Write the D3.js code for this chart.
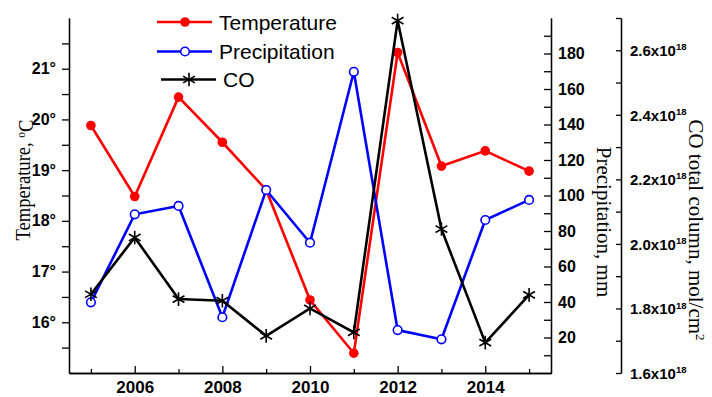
<!DOCTYPE html>
<html>
<head>
<meta charset="utf-8">
<script src="https://cdn.jsdelivr.net/npm/d3@7"></script>
<style>
  body { margin: 0; background: #fff; }
  .tick text { font-family: "Liberation Sans", Arial, sans-serif; font-weight: bold; fill: #000; }
  .axis path, .axis line { stroke: #000; stroke-width: 1.3px; }
  .title { font-family: "Liberation Serif", "Times New Roman", serif; font-size: 21px; fill: #000; }
  .legend text { font-family: "Liberation Sans", Arial, sans-serif; font-size: 21px; fill: #000; }
</style>
</head>
<body>
<div id="chart"></div>
<script>
// data
var years = [2005, 2006, 2007, 2008, 2009, 2010, 2011, 2012, 2013, 2014, 2015];
var temperature = [19.88, 18.48, 20.44, 19.55, 18.61, 16.44, 15.39, 21.32, 19.08, 19.38, 18.98];
var precipitation = [39.8, 89.4, 94.1, 31.4, 103.1, 73.4, 169.7, 24.2, 19.0, 86.2, 97.5];
var coColumn = [1.844, 2.020, 1.829, 1.824, 1.715, 1.800, 1.726, 2.692, 2.046, 1.694, 1.842]; // x1e18

var yearTicks = [2006, 2008, 2010, 2012, 2014];
var yearMinor = [2005, 2007, 2009, 2011, 2013, 2015];
var tempTicks = [16, 17, 18, 19, 20, 21];
var tempMinor = [15.5, 16.5, 17.5, 18.5, 19.5, 20.5, 21.5];
var precTicks = [20, 40, 60, 80, 100, 120, 140, 160, 180];
var precMinor = [10, 30, 50, 70, 90, 110, 130, 150, 170, 190];
var coTicks = [1.6, 1.8, 2.0, 2.2, 2.4, 2.6];
var coMinor = [1.7, 1.9, 2.1, 2.3, 2.5, 2.7];

var W = 712, H = 397;
var plot = {left: 69, right: 551, top: 18, bottom: 373};
var coAxisX = 621;

var svg = d3.select("#chart").append("svg")
    .attr("width", W)
    .attr("height", H);

// scales
var x = d3.scaleLinear().domain([2004.5, 2015.5]).range([plot.left, plot.right]);
var yT = d3.scaleLinear().domain([15, 22]).range([plot.bottom, plot.top]);
var yP = d3.scaleLinear().domain([0, 200]).range([plot.bottom, plot.top]);
var yC = d3.scaleLinear().domain([1.6, 2.7]).range([plot.bottom, plot.top]);

// bottom axis, ticks pointing inward
svg.append("g").attr("class", "axis")
    .attr("transform", "translate(0," + plot.bottom + ")")
    .call(d3.axisBottom(x).tickValues(yearMinor).tickSize(-4).tickSizeOuter(0).tickFormat(""));
svg.append("g").attr("class", "axis x")
    .attr("transform", "translate(0," + plot.bottom + ")")
    .call(d3.axisBottom(x).tickValues(yearTicks).tickSize(-7).tickSizeOuter(0).tickPadding(8).tickFormat(d3.format("d")))
    .selectAll(".tick text").style("font-size", "17px");

// left temperature axis
svg.append("g").attr("class", "axis")
    .attr("transform", "translate(" + plot.left + ",0)")
    .call(d3.axisLeft(yT).tickValues(tempMinor).tickSize(7).tickSizeOuter(0).tickFormat(""));
svg.append("g").attr("class", "axis yT")
    .attr("transform", "translate(" + plot.left + ",0)")
    .call(d3.axisLeft(yT).tickValues(tempTicks).tickSize(7).tickSizeOuter(0).tickPadding(6).tickFormat(function(d) { return d + "°"; }))
    .selectAll(".tick text").style("font-size", "16px");

// right precipitation axis, ticks inward
svg.append("g").attr("class", "axis")
    .attr("transform", "translate(" + plot.right + ",0)")
    .call(d3.axisRight(yP).tickValues(precMinor).tickSize(-7).tickSizeOuter(0).tickFormat(""));
svg.append("g").attr("class", "axis yP")
    .attr("transform", "translate(" + plot.right + ",0)")
    .call(d3.axisRight(yP).tickValues(precTicks).tickSize(-7).tickSizeOuter(0).tickPadding(7))
    .selectAll(".tick text").style("font-size", "16px");

// CO axis
svg.append("g").attr("class", "axis")
    .attr("transform", "translate(" + coAxisX + ",0)")
    .call(d3.axisRight(yC).tickValues(coMinor).tickSize(-5).tickSizeOuter(0).tickFormat(""));
var coAxis = svg.append("g").attr("class", "axis yC")
    .attr("transform", "translate(" + coAxisX + ",0)")
    .call(d3.axisRight(yC).tickValues(coTicks).tickSize(-5).tickSizeOuter(0).tickPadding(9).tickFormat(""));
var coLabel = coAxis.selectAll(".tick text")
    .style("font-size", "15px")
    .attr("dy", "0.35em");
coLabel.append("tspan").text(function(d) { return d3.format(".1f")(d) + "x10"; });
coLabel.append("tspan").text("18").attr("dy", "-0.6em").style("font-size", "9.5px");

// axis titles
svg.append("text").attr("class", "title")
    .attr("transform", "translate(30,180) rotate(-90)")
    .attr("text-anchor", "middle")
    .attr("textLength", 121).attr("lengthAdjust", "spacingAndGlyphs")
    .html('Temperature, <tspan dy="-0.35em" font-size="13px">o</tspan><tspan dy="0.35em">C</tspan>');

svg.append("text").attr("class", "title")
    .attr("transform", "translate(597,222) rotate(90)")
    .attr("text-anchor", "middle")
    .text("Precipitation, mm");

svg.append("text").attr("class", "title")
    .attr("transform", "translate(689,230) rotate(90)")
    .attr("text-anchor", "middle")
    .html('CO total column, mol/cm<tspan dy="-0.5em" font-size="13px">2</tspan>');

// series
var series = [
  {name: "Temperature", values: temperature, y: yT, color: "#ff0000", marker: "dot"},
  {name: "Precipitation", values: precipitation, y: yP, color: "#0000ff", marker: "open"},
  {name: "CO", values: coColumn, y: yC, color: "#000000", marker: "star"}
];

var star = d3.symbol().type(d3.symbolAsterisk).size(130);

function drawMarker(g, s, cx, cy) {
  if (s.marker == "dot") {
    g.append("circle").attr("cx", cx).attr("cy", cy).attr("r", 4.8).attr("fill", s.color);
  } else if (s.marker == "open") {
    g.append("circle").attr("cx", cx).attr("cy", cy).attr("r", 4.3)
      .attr("fill", "#fff").attr("stroke", s.color).attr("stroke-width", 1.6);
  } else {
    g.append("path").attr("d", star()).attr("transform", "translate(" + cx + "," + cy + ")")
      .attr("fill", "none").attr("stroke", s.color).attr("stroke-width", 1.6);
  }
}

series.forEach(function(s) {
  var line = d3.line()
    .x(function(d, i) { return x(years[i]); })
    .y(function(d) { return s.y(d); });
  var g = svg.append("g");
  g.append("path")
    .datum(s.values)
    .attr("d", line)
    .attr("fill", "none")
    .attr("stroke", s.color)
    .attr("stroke-width", 2.6);
  s.values.forEach(function(v, i) { drawMarker(g, s, x(years[i]), s.y(v)); });
});

// legend
var legend = svg.append("g").attr("class", "legend");
var legendRows = [22, 51.5, 79.5];
series.forEach(function(s, i) {
  var ly = legendRows[i];
  var x0 = i == 2 ? 161 : 157;
  legend.append("line")
    .attr("x1", x0).attr("x2", x0 + 55)
    .attr("y1", ly).attr("y2", ly)
    .attr("stroke", s.color).attr("stroke-width", 2.6);
  drawMarker(legend, s, x0 + 28, ly);
  legend.append("text")
    .attr("x", x0 + 62).attr("y", ly + 7.5)
    .text(s.name);
});
</script>
</body>
</html>
